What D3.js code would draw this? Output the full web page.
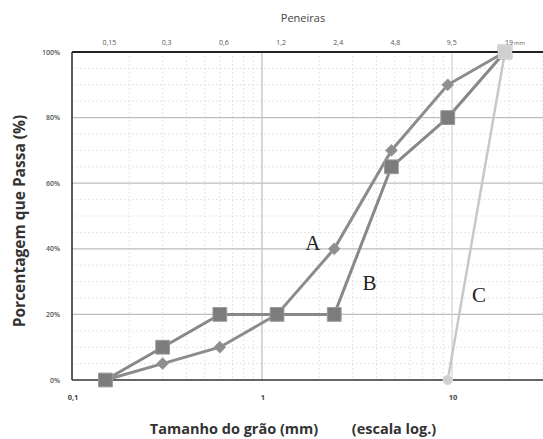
<!DOCTYPE html>
<html><head><meta charset="utf-8">
<script src="https://cdn.jsdelivr.net/npm/d3@7"></script>
<style>body{margin:0;background:#fff}svg{display:block}</style>
</head><body>
<svg id="c" width="543" height="439"></svg>
<script>
const sieves = [0.15, 0.3, 0.6, 1.2, 2.4, 4.8, 9.5, 19];
const sieveLabels = ["0,15", "0,3", "0,6", "1,2", "2,4", "4,8", "9,5", "19"];
const seriesA = [0, 5, 10, 20, 40, 70, 90, 100];
const seriesB = [0, 10, 20, 20, 20, 65, 80, 100];
const sizesC = [9.5, 19];
const seriesC = [0, 100];
const yTicks = [0, 20, 40, 60, 80, 100];
const yTickLabels = ["0%", "20%", "40%", "60%", "80%", "100%"];
const xTicks = [0.1, 1, 10];
const xTickLabels = ["0,1", "1", "10"];

const svg = d3.select("#c");
const L = 72, R = 543, T = 52, B = 380;
const x = d3.scaleLog().domain([0.1, 10]).range([L, 452]);
const y = d3.scaleLinear().domain([0, 100]).range([B, T]);
const font = "'Open Sans', Lato, sans-serif";

// minor grid (dotted)
const minorX = [];
for (let d = 0.1; d < 100; d *= 10) for (let k = 2; k <= 9; k++) { const v = d * k; if (x(v) < R) minorX.push(v); }
svg.append("g").selectAll("line").data(minorX).join("line")
  .attr("x1", d => x(d)).attr("x2", d => x(d)).attr("y1", T).attr("y2", B)
  .attr("stroke", "#d6d6d6").attr("stroke-width", 0.8).attr("stroke-dasharray", "1.5,2.5");
const minorY = d3.range(5, 100, 5).filter(v => v % 20 !== 0);
svg.append("g").selectAll("line").data(minorY).join("line")
  .attr("x1", L).attr("x2", R).attr("y1", d => y(d)).attr("y2", d => y(d))
  .attr("stroke", "#d6d6d6").attr("stroke-width", 0.8).attr("stroke-dasharray", "1.5,2.5");
// major grid
svg.append("g").selectAll("line").data(yTicks.slice(1, 5)).join("line")
  .attr("x1", L).attr("x2", R).attr("y1", d => y(d)).attr("y2", d => y(d))
  .attr("stroke", "#bdbdbd").attr("stroke-width", 1.2);
svg.append("g").selectAll("line").data([1, 10]).join("line")
  .attr("x1", d => x(d)).attr("x2", d => x(d)).attr("y1", T).attr("y2", B)
  .attr("stroke", (d, i) => i === 0 ? "#bdbdbd" : "#d4d4d4").attr("stroke-width", 1.2);

// axes frame
svg.append("line").attr("x1", L).attr("x2", R).attr("y1", T).attr("y2", T).attr("stroke", "#222").attr("stroke-width", 2.2);
svg.append("line").attr("x1", L).attr("x2", R).attr("y1", B).attr("y2", B).attr("stroke", "#333").attr("stroke-width", 1.6);
svg.append("line").attr("x1", L).attr("x2", L).attr("y1", T).attr("y2", B).attr("stroke", "#333").attr("stroke-width", 1.6);

// y tick labels
svg.append("g").selectAll("text").data(yTicks).join("text")
  .attr("x", L - 12).attr("y", d => y(d) + 2.5).attr("text-anchor", "end")
  .attr("font-family", font).attr("font-size", 7).attr("font-weight", 600).attr("fill", "#555")
  .text((d, i) => yTickLabels[i]);
// bottom tick labels
svg.append("g").selectAll("text").data(xTicks).join("text")
  .attr("x", d => x(d) + 1).attr("y", 400).attr("text-anchor", "middle")
  .attr("font-family", font).attr("font-size", 7.5).attr("font-weight", "bold").attr("fill", "#444")
  .text((d, i) => xTickLabels[i]);
// top sieve labels
svg.append("g").selectAll("text").data(sieves).join("text")
  .attr("x", d => x(d) + 4).attr("y", 45).attr("text-anchor", "middle")
  .attr("font-family", font).attr("font-size", 7).attr("fill", "#555")
  .text((d, i) => sieveLabels[i]);
svg.append("text").attr("x", x(19) + 9).attr("y", 45)
  .attr("font-family", font).attr("font-size", 6).attr("fill", "#666").text("mm");

// titles
svg.append("text").attr("x", 303).attr("y", 22).attr("text-anchor", "middle")
  .attr("font-family", font).attr("font-size", 11).attr("fill", "#444").text("Peneiras");
svg.append("text").attr("transform", "translate(25,221) rotate(-90)").attr("text-anchor", "middle")
  .attr("font-family", font).attr("font-size", 15.5).attr("font-weight", "bold").attr("fill", "#333")
  .text("Porcentagem que Passa (%)");
svg.append("text").attr("x", 234).attr("y", 434).attr("text-anchor", "middle")
  .attr("font-family", font).attr("font-size", 14.5).attr("font-weight", "bold").attr("fill", "#333")
  .text("Tamanho do grão (mm)");
svg.append("text").attr("x", 394).attr("y", 434).attr("text-anchor", "middle")
  .attr("font-family", font).attr("font-size", 14.5).attr("font-weight", "bold").attr("fill", "#333")
  .text("(escala log.)");

const line = d3.line().x(d => x(d[0])).y(d => y(d[1]));
const dataA = sieves.map((s, i) => [s, seriesA[i]]);
const dataB = sieves.map((s, i) => [s, seriesB[i]]);
const dataC = sizesC.map((s, i) => [s, seriesC[i]]);

// C
svg.append("path").datum(dataC).attr("d", line).attr("fill", "none").attr("stroke", "#c6c8cc").attr("stroke-width", 2.5);
// A
svg.append("path").datum(dataA).attr("d", line).attr("fill", "none").attr("stroke", "#8c8c8c").attr("stroke-width", 3);
// B
svg.append("path").datum(dataB).attr("d", line).attr("fill", "none").attr("stroke", "#888").attr("stroke-width", 3);

// markers A diamonds
svg.append("g").selectAll("path").data(dataA).join("path")
  .attr("transform", d => `translate(${x(d[0])},${y(d[1])}) rotate(45)`)
  .attr("d", d3.symbol(d3.symbolSquare, 70)).attr("fill", "#8e8e8e").attr("stroke", "#9c9c9c").attr("stroke-width", 0.8);
// markers B squares
svg.append("g").selectAll("path").data(dataB).join("path")
  .attr("transform", d => `translate(${x(d[0])},${y(d[1])})`)
  .attr("d", d3.symbol(d3.symbolSquare, 190)).attr("fill", "#7c7c7c").attr("stroke", "#9a9a9a").attr("stroke-width", 1);
// markers C
svg.append("g").selectAll("path").data(dataC).join("path")
  .attr("transform", d => `translate(${x(d[0])},${y(d[1])})`)
  .attr("d", (d, i) => d3.symbol(i === 0 ? d3.symbolCircle : d3.symbolSquare, i === 0 ? 70 : 170)())
  .attr("fill", "#d0d0d0").attr("stroke", "#dadada");

// series letters
const letters = [["A", 2.4, 40, -29, 1], ["B", 4.8, 65, -29, 123], ["C", 19, 100, -33, 250]];
svg.append("g").selectAll("text").data(letters).join("text")
  .attr("x", d => x(d[1]) + d[3]).attr("y", d => y(d[2]) + d[4])
  .attr("font-family", "'Liberation Serif', 'DejaVu Serif', serif").attr("font-size", 21).attr("fill", "#222")
  .text(d => d[0]);
</script>
</body></html>
